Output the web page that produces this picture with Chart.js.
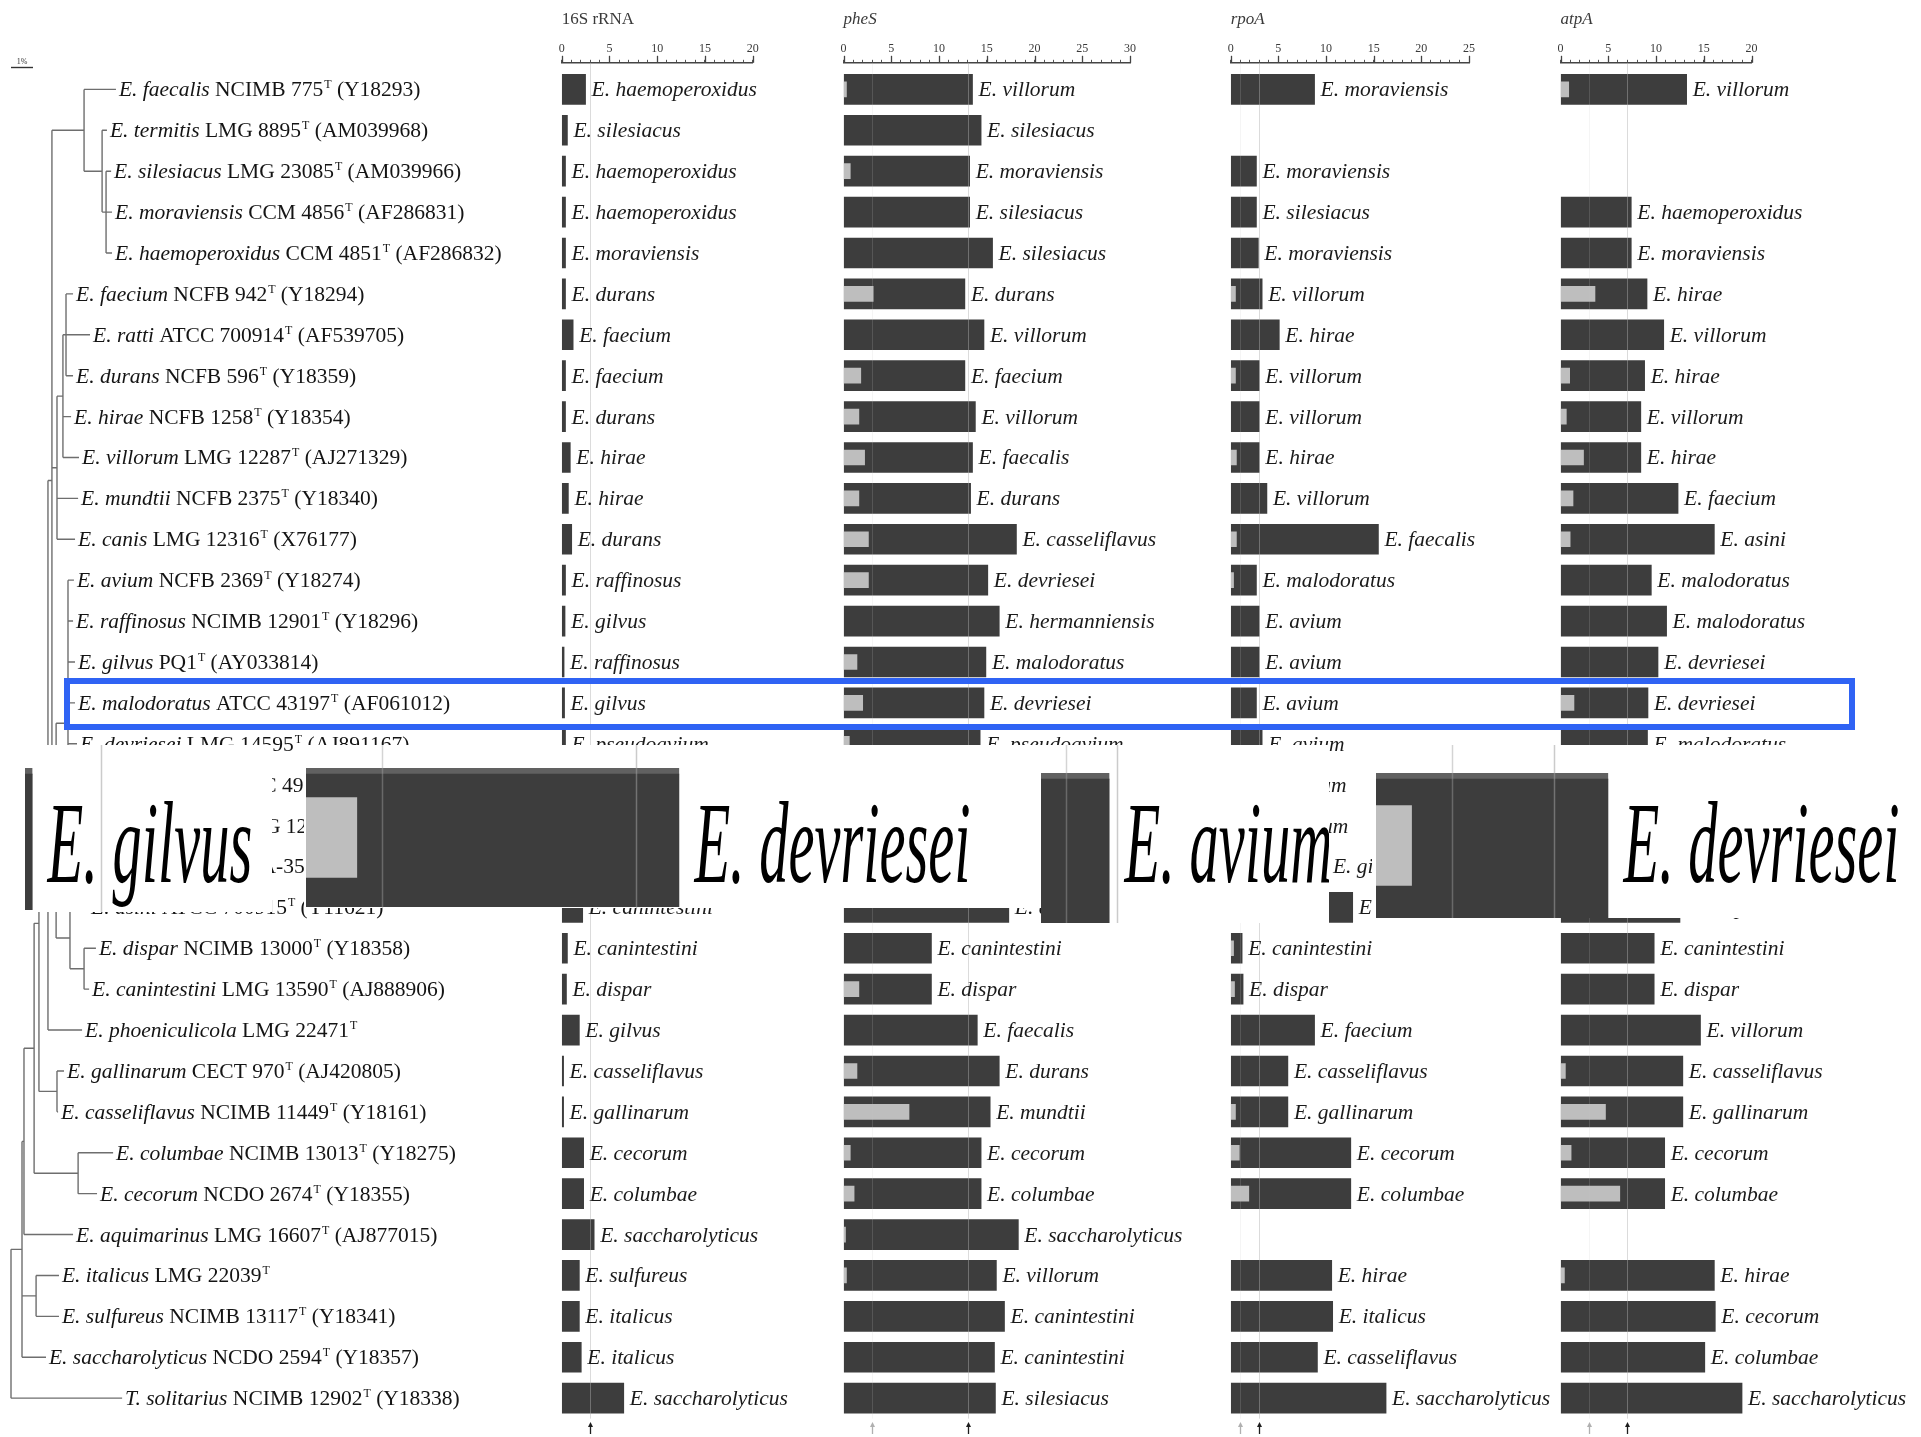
<!DOCTYPE html>
<html lang="en">
<head>
<meta charset="utf-8">
<title>Enterococcus: 16S rRNA, pheS, rpoA and atpA distances</title>
<script src="https://cdn.jsdelivr.net/npm/chart.js@4.4.1/dist/chart.umd.min.js"></script>
<style>
  html, body { margin: 0; padding: 0; background: #fff; }
  body { position: relative; width: 1921px; height: 1437px; overflow: hidden; }
  .pane { position: absolute; z-index: 1; }
  .pane canvas, .inset canvas { display: block; }
  .inset { position: absolute; background: #fff; z-index: 3; top: 745px; }
  #focus { position: absolute; left: 64px; top: 678px; width: 1791px; height: 52px;
           box-sizing: border-box; border: 6px solid #2f63f4; z-index: 2; }
</style>
</head>
<body>
<div class="pane" style="left:0;top:0;width:560px;height:1437px"><canvas id="tree"></canvas></div>
<div class="pane" style="left:540px;top:0;width:295px;height:1437px"><canvas id="g16s"></canvas></div>
<div class="pane" style="left:835px;top:0;width:390px;height:1437px"><canvas id="gphes"></canvas></div>
<div class="pane" style="left:1225px;top:0;width:330px;height:1437px"><canvas id="grpoa"></canvas></div>
<div class="pane" style="left:1555px;top:0;width:366px;height:1437px"><canvas id="gatpa"></canvas></div>
<div id="focus"></div>
<div class="inset" style="left:24px;width:248px;height:167px"><canvas id="i16s"></canvas></div>
<div class="inset" style="left:304px;width:737px;height:163px"><canvas id="iphes"></canvas></div>
<div class="inset" style="left:1041px;width:288px;height:178px"><canvas id="irpoa"></canvas></div>
<div class="inset" style="left:1372px;width:527px;height:173px"><canvas id="iatpa"></canvas></div>
<script>
// ---------- strains (one row each, top to bottom) ----------
const speciesNames = ['E. faecalis','E. termitis','E. silesiacus','E. moraviensis','E. haemoperoxidus',
  'E. faecium','E. ratti','E. durans','E. hirae','E. villorum','E. mundtii','E. canis','E. avium',
  'E. raffinosus','E. gilvus','E. malodoratus','E. devriesei','E. pseudoavium','E. hermanniensis',
  'E. pallens','E. asini','E. dispar','E. canintestini','E. phoeniculicola','E. gallinarum',
  'E. casseliflavus','E. columbae','E. cecorum','E. aquimarinus','E. italicus','E. sulfureus',
  'E. saccharolyticus','T. solitarius'];
const strainCodes = ['NCIMB 775','LMG 8895','LMG 23085','CCM 4856','CCM 4851','NCFB 942','ATCC 700914',
  'NCFB 596','NCFB 1258','LMG 12287','NCFB 2375','LMG 12316','NCFB 2369','NCIMB 12901','PQ1',
  'ATCC 43197','LMG 14595','ATCC 49372','LMG 12317','ATCC BAA-351','ATCC 700915','NCIMB 13000',
  'LMG 13590','LMG 22471','CECT 970','NCIMB 11449','NCIMB 13013','NCDO 2674','LMG 16607','LMG 22039',
  'NCIMB 13117','NCDO 2594','NCIMB 12902'];
const accessions = ['Y18293','AM039968','AM039966','AF286831','AF286832','Y18294','AF539705','Y18359',
  'Y18354','AJ271329','Y18340','X76177','Y18274','Y18296','AY033814','AF061012','AJ891167','AF061002',
  'AY396047','AF421723','Y11621','Y18358','AJ888906','','AJ420805','Y18161','Y18275','Y18355',
  'AJ877015','','Y18341','Y18357','Y18338'];

// ---------- tree: tip depths (distance units, scale bar = 1) and topology ----------
const tipDepth = [4.77,4.36,4.55,4.59,4.59,2.82,3.59,2.82,2.73,3.09,3.05,2.91,2.86,2.82,2.91,2.91,3.0,
  2.95,2.91,2.95,3.5,3.86,3.55,3.23,2.41,2.14,4.64,3.91,2.82,2.18,2.18,1.59,5.05];
// internal node = [depth, ...children]; a number is a tip (row index)
const treeTopology = [0, 32,
  [0.5, [1.14, 29, 30], 31,
    [0.59, 28,
      [1.05,
        [1.27,
          [1.68,
            [1.86,
              [3.32, 0, [4.14, 1, [4.32, 2, 3, 4]]],
              [2.09, [2.36, [2.5, 5, 6, 7], 8, 9], 10, 11],
              [2.05, [2.59, 12, 13, 14, 15, 16, 17, 18, 19], [2.68, 20, [3.32, 21, 22]]]
            ],
            23],
          [2.09, 24, 25]],
        [3.05, 26, 27]]]]];

// ---------- 16S rRNA ----------
const s16Values = [2.5,0.6,0.4,0.4,0.4,0.4,1.2,0.4,0.4,0.9,0.7,1.05,0.4,0.35,0.25,0.3,0.4,0.4,0.8,1.1,
  2.2,0.6,0.5,1.85,0.2,0.2,2.3,2.3,3.4,1.85,1.85,2.05,6.5];
const s16Inner = new Array(33).fill(0);
const s16Nearest = ['E. haemoperoxidus','E. silesiacus','E. haemoperoxidus','E. haemoperoxidus',
  'E. moraviensis','E. durans','E. faecium','E. faecium','E. durans','E. hirae','E. hirae','E. durans',
  'E. raffinosus','E. gilvus','E. raffinosus','E. gilvus','E. pseudoavium','E. devriesei','E. avium',
  'E. devriesei','E. canintestini','E. canintestini','E. dispar','E. gilvus','E. casseliflavus',
  'E. gallinarum','E. cecorum','E. columbae','E. saccharolyticus','E. sulfureus','E. italicus',
  'E. italicus','E. saccharolyticus'];
const s16Cutoffs = [3];

// ---------- pheS ----------
const pheSValues = [13.5,14.4,13.2,13.2,15.6,12.7,14.7,12.7,13.8,13.5,13.3,18.1,15.1,16.3,14.9,14.7,
  14.3,13.6,15.2,16.4,17.3,9.2,9.2,14.0,16.3,15.35,14.4,14.4,18.3,16.0,16.85,15.8,15.9];
const pheSInner = [0.3,0,0.7,0,0,3.1,0,1.8,1.6,2.2,1.6,2.6,2.6,0,1.4,2.0,0.6,0.8,1.2,0,0,0,1.6,0,1.4,
  6.85,0.7,1.1,0.2,0.3,0,0,0];
const pheSNearest = ['E. villorum','E. silesiacus','E. moraviensis','E. silesiacus','E. silesiacus',
  'E. durans','E. villorum','E. faecium','E. villorum','E. faecalis','E. durans','E. casseliflavus',
  'E. devriesei','E. hermanniensis','E. malodoratus','E. devriesei','E. pseudoavium','E. devriesei',
  'E. raffinosus','E. avium','E. dispar','E. canintestini','E. dispar','E. faecalis','E. durans',
  'E. mundtii','E. cecorum','E. columbae','E. saccharolyticus','E. villorum','E. canintestini',
  'E. canintestini','E. silesiacus'];
const pheSCutoffs = [3, 13];

// ---------- rpoA ----------
const rpoAValues = [8.8,null,2.7,2.7,2.9,3.3,5.1,3.0,3.0,3.0,3.8,15.5,2.7,3.0,3.0,2.7,3.3,3.5,3.7,10.1,
  12.8,1.2,1.3,8.8,6.0,6.0,12.6,12.6,null,10.6,10.7,9.1,16.3];
const rpoAInner = [0,0,0,0,0,0.5,0,0.5,0,0.6,0,0.6,0.3,0,0,0,0,0,0,0,0,0.3,0.4,0,0,0.5,0.9,1.9,0,0,0,0,0];
const rpoANearest = ['E. moraviensis','','E. moraviensis','E. silesiacus','E. moraviensis','E. villorum',
  'E. hirae','E. villorum','E. villorum','E. hirae','E. villorum','E. faecalis','E. malodoratus',
  'E. avium','E. avium','E. avium','E. avium','E. avium','E. avium','E. gilvus','E. hirae',
  'E. canintestini','E. dispar','E. faecium','E. casseliflavus','E. gallinarum','E. cecorum',
  'E. columbae','','E. hirae','E. italicus','E. casseliflavus','E. saccharolyticus'];
const rpoACutoffs = [1, 3];

// ---------- atpA ----------
const atpAValues = [13.2,null,null,7.4,7.4,9.05,10.8,8.8,8.4,8.4,12.3,16.1,9.5,11.1,10.2,9.15,9.1,8.6,
  10.4,11.8,12.5,9.8,9.8,14.65,12.8,12.8,10.9,10.9,null,16.1,16.2,15.1,19.0];
const atpAInner = [0.85,0,0,0,0,3.6,0,0.95,0.6,2.4,1.3,1.0,0,0,0,1.4,0,0,0.6,0,0,0,0,0,0.5,4.7,1.1,6.2,
  0,0.4,0,0,0];
const atpANearest = ['E. villorum','','','E. haemoperoxidus','E. moraviensis','E. hirae','E. villorum',
  'E. hirae','E. villorum','E. hirae','E. faecium','E. asini','E. malodoratus','E. malodoratus',
  'E. devriesei','E. devriesei','E. malodoratus','E. devriesei','E. avium','E. raffinosus','E. dispar',
  'E. canintestini','E. dispar','E. villorum','E. casseliflavus','E. gallinarum','E. cecorum',
  'E. columbae','','E. hirae','E. cecorum','E. columbae','E. saccharolyticus'];
const atpACutoffs = [3, 7];

// row shown enlarged underneath the table
const FOCUS_ROW = speciesNames.indexOf('E. malodoratus');

// ---------- shared look ----------
const SERIF = "'Liberation Serif', 'Times New Roman', serif";
Chart.defaults.font.family = SERIF;
Chart.defaults.animation = false;
Chart.defaults.events = [];
Chart.defaults.plugins.legend.display = false;
Chart.defaults.plugins.tooltip.enabled = false;

const ROW_MIN = -0.65, ROW_MAX = 32.5;      // row 0 sits 0.65 rows below the ruler
const AXIS_H = 62.8, BOTTOM_PAD = 18.4;
const DARK = '#3d3d3d', LIGHT = '#bebebe';
const LABEL_FONT = 'italic 21.5px ' + SERIF;
const ROMAN_FONT = '21.5px ' + SERIF;

// ---------- tree ----------
const treeSegments = [];
function placeNode(node) {
  if (typeof node === 'number') return { x: tipDepth[node], y: node };
  const [depth, ...kids] = node;
  const pts = kids.map(placeNode);
  const ys = pts.map(p => p.y);
  const lo = Math.min(...ys), hi = Math.max(...ys);
  treeSegments.push({ x: depth, y: lo }, { x: depth, y: hi }, { x: depth, y: null });
  pts.forEach(p => treeSegments.push({ x: depth, y: p.y }, { x: p.x, y: p.y }, { x: p.x, y: null }));
  return { x: depth, y: (lo + hi) / 2 };
}
placeNode(treeTopology);

const treeLabels = {
  id: 'treeLabels',
  afterDatasetsDraw(chart) {
    const { ctx, scales: { x, y } } = chart;
    ctx.save();
    ctx.fillStyle = '#141414';
    ctx.textBaseline = 'alphabetic';
    speciesNames.forEach((sp, i) => {
      let px = x.getPixelForValue(tipDepth[i]) + 3;
      const py = y.getPixelForValue(i) + 7;
      ctx.font = LABEL_FONT; ctx.fillText(sp, px, py);
      px += ctx.measureText(sp + ' ').width;
      ctx.font = ROMAN_FONT; ctx.fillText(strainCodes[i], px, py);
      px += ctx.measureText(strainCodes[i]).width + 1;
      ctx.font = '12px ' + SERIF; ctx.fillText('T', px, py - 8);
      px += ctx.measureText('T').width;
      if (accessions[i]) {
        ctx.font = ROMAN_FONT;
        px += ctx.measureText(' ').width;
        ctx.fillText('(' + accessions[i] + ')', px, py);
      }
    });
    // scale bar
    const x0 = x.getPixelForValue(0), x1 = x.getPixelForValue(1);
    ctx.strokeStyle = '#333'; ctx.lineWidth = 1.4;
    ctx.beginPath(); ctx.moveTo(x0, 67.5); ctx.lineTo(x1, 67.5); ctx.stroke();
    ctx.font = '8px ' + SERIF; ctx.textAlign = 'center'; ctx.fillStyle = '#333';
    ctx.fillText('1%', (x0 + x1) / 2, 64);
    ctx.restore();
  }
};

new Chart(document.getElementById('tree'), {
  type: 'scatter',
  data: { datasets: [{ data: treeSegments, showLine: true, spanGaps: false, borderColor: '#6e6e6e',
    borderWidth: 1.4, pointRadius: 0, tension: 0 }] },
  options: {
    responsive: true, maintainAspectRatio: false,
    layout: { padding: { left: 0, right: 0, top: AXIS_H, bottom: BOTTOM_PAD } },
    scales: {
      x: { type: 'linear', min: -0.5, max: 24.95, display: false, offset: false },
      y: { type: 'linear', min: ROW_MIN, max: ROW_MAX, reverse: true, display: false, offset: false }
    }
  },
  plugins: [treeLabels]
});

// ---------- gene panels ----------
// names written after each bar; baseline either follows the row or is fixed (o.baseline)
function labelPlugin(values, names, o) {
  return {
    id: 'nearestLabels',
    afterDatasetsDraw(chart) {
      const { ctx, scales: { x, y } } = chart;
      ctx.save();
      ctx.fillStyle = o.color;
      ctx.font = LABEL_FONT;
      ctx.textBaseline = 'alphabetic';
      values.forEach((v, i) => {
        if (v == null || !names[i]) return;
        const px = x.getPixelForValue(v) + o.gap;
        const py = o.baseline != null ? o.baseline : y.getPixelForValue(i) + 7;
        ctx.save();
        ctx.translate(px, py);
        ctx.scale(o.sx, o.sy);
        ctx.fillText(names[i], 0, 0);
        ctx.restore();
      });
      ctx.restore();
    }
  };
}

function cutoffPlugin(cutoffs, o) {
  return {
    id: 'cutoffs',
    afterDatasetsDraw(chart) {
      const { ctx, chartArea, scales: { x } } = chart;
      ctx.save();
      cutoffs.forEach((c, k) => {
        const main = k === cutoffs.length - 1;
        const px = Math.round(x.getPixelForValue(c)) + 0.5;
        ctx.strokeStyle = main ? o.mainLine : o.minorLine;
        ctx.lineWidth = o.lineWidth;
        ctx.beginPath();
        ctx.moveTo(px, o.full ? 0 : chartArea.top);
        ctx.lineTo(px, o.full ? chart.height : chartArea.bottom);
        ctx.stroke();
        if (o.arrows) {
          const col = main ? '#1e1e1e' : '#b0b0b0';
          const yb = chart.height - 3, yt = chart.height - 15;
          ctx.strokeStyle = col; ctx.fillStyle = col; ctx.lineWidth = 1.3;
          ctx.beginPath(); ctx.moveTo(px, yb); ctx.lineTo(px, yt + 3); ctx.stroke();
          ctx.beginPath(); ctx.moveTo(px, yt); ctx.lineTo(px - 2.5, yt + 5); ctx.lineTo(px + 2.5, yt + 5);
          ctx.closePath(); ctx.fill();
        }
      });
      ctx.restore();
    }
  };
}

const majorTicks = {
  id: 'majorTicks',
  afterDraw(chart) {
    const { ctx, scales: { x } } = chart;
    ctx.save();
    ctx.strokeStyle = '#444'; ctx.lineWidth = 1.3;
    x.ticks.forEach(t => {
      if (t.value % 5 !== 0) return;
      const px = Math.round(x.getPixelForValue(t.value)) + 0.5;
      ctx.beginPath(); ctx.moveTo(px, x.bottom); ctx.lineTo(px, x.bottom - 7); ctx.stroke();
    });
    ctx.restore();
  }
};

function genePanel(id, g) {
  const dark = [], light = [];
  g.values.forEach((v, i) => { if (v != null) dark.push({ x: v, y: i }); });
  g.inner.forEach((v, i) => { if (v) light.push({ x: v, y: i }); });
  return new Chart(document.getElementById(id), {
    type: 'bar',
    data: { datasets: [
      { data: light, backgroundColor: LIGHT, barThickness: 15, grouped: false, order: 1 },
      { data: dark, backgroundColor: DARK, barThickness: 30, grouped: false, order: 2 }
    ] },
    options: {
      indexAxis: 'y', responsive: true, maintainAspectRatio: false,
      layout: { padding: { left: g.padL, right: g.padR, top: 0, bottom: BOTTOM_PAD } },
      scales: {
        y: { type: 'linear', min: ROW_MIN, max: ROW_MAX, reverse: true, display: false, offset: false },
        x: {
          type: 'linear', position: 'top', min: 0, max: g.max, offset: false,
          afterBuildTicks(s) { const t = []; for (let v = 0; v <= g.max; v++) t.push({ value: v }); s.ticks = t; },
          afterFit(s) { s.height = AXIS_H; s.paddingLeft = 0; s.paddingRight = 0; },
          grid: { drawOnChartArea: false, tickLength: 3, color: '#555', lineWidth: 1 },
          border: { color: '#444', width: 1.5 },
          ticks: { autoSkip: false, maxRotation: 0, padding: 4, color: '#3a3a3a', font: { size: 12 },
                   callback: v => (v % 5 === 0 ? String(v) : '') },
          title: { display: true, text: g.title, align: 'start', color: '#3a3a3a',
                   font: { size: 17, style: g.titleStyle }, padding: { top: 9, bottom: 0 } }
        }
      }
    },
    plugins: [
      cutoffPlugin(g.cutoffs, { mainLine: 'rgba(175,175,175,0.45)', minorLine: 'rgba(200,200,200,0.18)',
                               lineWidth: 1, arrows: true, full: false }),
      labelPlugin(g.values, g.names, { color: '#1a1a1a', gap: 6, sx: 1, sy: 1 }),
      majorTicks
    ]
  });
}

const GENES = {
  s16:  { title: '16S rRNA', titleStyle: 'normal', max: 20, values: s16Values,  inner: s16Inner,
          names: s16Nearest,  cutoffs: s16Cutoffs,  padL: 21.7, padR: 82.3 },
  pheS: { title: 'pheS', titleStyle: 'italic', max: 30, values: pheSValues, inner: pheSInner,
          names: pheSNearest, cutoffs: pheSCutoffs, padL: 8.6, padR: 94.9 },
  rpoA: { title: 'rpoA', titleStyle: 'italic', max: 25, values: rpoAValues, inner: rpoAInner,
          names: rpoANearest, cutoffs: rpoACutoffs, padL: 5.7, padR: 86 },
  atpA: { title: 'atpA', titleStyle: 'italic', max: 20, values: atpAValues, inner: atpAInner,
          names: atpANearest, cutoffs: atpACutoffs, padL: 5.6, padR: 169.4 }
};
genePanel('g16s', GENES.s16);
genePanel('gphes', GENES.pheS);
genePanel('grpoa', GENES.rpoA);
genePanel('gatpa', GENES.atpA);

// ---------- enlarged view of one row ----------
const ZOOM_PX_PER_UNIT = 25.4, ZOOM_SX = 2.72, ZOOM_SY = 5.4, ZOOM_BASELINE = 137;
function zoomPanel(id, g, box) {
  const el = document.getElementById(id);
  const w = el.parentNode.clientWidth;
  const v = g.values[FOCUS_ROW], inner = g.inner[FOCUS_ROW];
  const ds = [{ data: [{ x: v, y: 0 }], backgroundColor: DARK, barThickness: box.thick, grouped: false, order: 2,
                borderColor: '#616161', borderWidth: { top: 6, right: 0, bottom: 0, left: 0 }, borderSkipped: false }];
  if (inner) ds.unshift({ data: [{ x: inner, y: 0 }], backgroundColor: LIGHT, barThickness: 80,
                          grouped: false, order: 1 });
  new Chart(el, {
    type: 'bar',
    data: { datasets: ds },
    options: {
      indexAxis: 'y', responsive: true, maintainAspectRatio: false,
      layout: { padding: { left: box.padL, right: 0, top: box.padT, bottom: box.padB } },
      scales: {
        y: { type: 'linear', min: -0.5, max: 0.5, reverse: true, display: false, offset: false },
        x: { type: 'linear', min: 0, max: (w - box.padL) / ZOOM_PX_PER_UNIT, display: false, offset: false }
      }
    },
    plugins: [
      cutoffPlugin(g.cutoffs, { mainLine: 'rgba(160,160,160,0.55)', minorLine: 'rgba(160,160,160,0.45)',
                               lineWidth: 1.5, arrows: false, full: true }),
      labelPlugin([v], [g.names[FOCUS_ROW]], { color: '#000', gap: 15, sx: ZOOM_SX, sy: ZOOM_SY,
                                               baseline: ZOOM_BASELINE })
    ]
  });
}
zoomPanel('i16s', GENES.s16, { padL: 1, padT: 23, padB: 2, thick: 142 });
zoomPanel('iphes', GENES.pheS, { padL: 2, padT: 23, padB: 1, thick: 139 });
zoomPanel('irpoa', GENES.rpoA, { padL: 0, padT: 28, padB: 0, thick: 150 });
zoomPanel('iatpa', GENES.atpA, { padL: 4, padT: 28, padB: 0, thick: 145 });
</script>
</body>
</html>
